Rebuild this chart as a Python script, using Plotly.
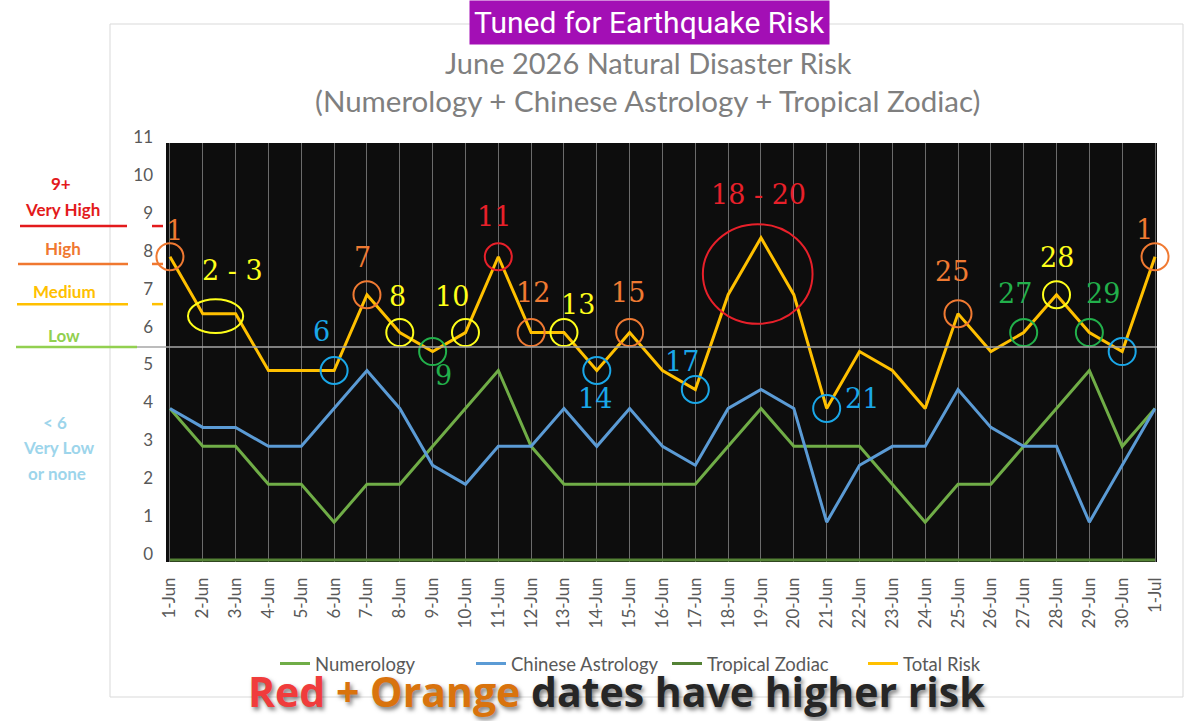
import plotly.graph_objects as go

dates = ["1-Jun", "2-Jun", "3-Jun", "4-Jun", "5-Jun", "6-Jun", "7-Jun", "8-Jun",
         "9-Jun", "10-Jun", "11-Jun", "12-Jun", "13-Jun", "14-Jun", "15-Jun",
         "16-Jun", "17-Jun", "18-Jun", "19-Jun", "20-Jun", "21-Jun", "22-Jun",
         "23-Jun", "24-Jun", "25-Jun", "26-Jun", "27-Jun", "28-Jun", "29-Jun",
         "30-Jun", "1-Jul"]

numerology = [4, 3, 3, 2, 2, 1, 2, 2, 3, 4, 5, 3, 2, 2, 2, 2, 2, 3, 4, 3,
              3, 3, 2, 1, 2, 2, 3, 4, 5, 3, 4]
chinese = [4, 3.5, 3.5, 3, 3, 4, 5, 4, 2.5, 2, 3, 3, 4, 3, 4, 3, 2.5, 4, 4.5, 4,
           1, 2.5, 3, 3, 4.5, 3.5, 3, 3, 1, 2.5, 4]
tropical = [0, 0, 0, 0, 0, 0, 0, 0, 0, 0, 0, 0, 0, 0, 0, 0, 0, 0, 0, 0,
            0, 0, 0, 0, 0, 0, 0, 0, 0, 0, 0]
total = [8, 6.5, 6.5, 5, 5, 5, 7, 6, 5.5, 6, 8, 6, 6, 5, 6, 5, 4.5, 7, 8.5, 7,
         4, 5.5, 5, 4, 6.5, 5.5, 6, 7, 6, 5.5, 8]

# highlighted days (index into dates) and the circle colour
circle_idx = [0, 5, 6, 7, 8, 9, 10, 11, 12, 13, 14, 16, 20, 24, 26, 27, 28, 29, 30]
circle_col = ["orange", "blue", "orange", "yellow", "green", "yellow", "red",
              "orange", "yellow", "blue", "orange", "blue", "blue", "orange",
              "green", "yellow", "green", "blue", "orange"]

COLS = {"orange": "#F07A32", "yellow": "#FFFF1A", "blue": "#1AA7E8",
        "green": "#22B04B", "red": "#E8202A"}

# plot area in pixels, used for placing the layout decorations
L, R, T, B = 166, 1157, 143, 562


def px(x):
    return (x - L) / (R - L)


def py(y):
    return (B - y) / (B - T)


fig = go.Figure()

for name, vals, col in [("Numerology", numerology, "#70AD47"),
                        ("Chinese Astrology", chinese, "#5B9BD5"),
                        ("Tropical Zodiac", tropical, "#548235"),
                        ("Total Risk", total, "#FFC000")]:
    fig.add_trace(go.Scatter(x=dates, y=vals, name=name, mode="lines",
                             line=dict(color=col, width=3)))

fig.add_trace(go.Scatter(
    x=[dates[i] for i in circle_idx],
    y=[total[i] for i in circle_idx],
    mode="markers", showlegend=False, hoverinfo="skip", cliponaxis=False,
    marker=dict(symbol="circle-open", size=27,
                line=dict(width=2, color=[COLS[c] for c in circle_col]),
                color=[COLS[c] for c in circle_col])))

shapes = [
    # chart frame
    dict(type="rect", xref="paper", yref="paper", x0=px(110), x1=px(1183),
         y0=py(697), y1=py(24), line=dict(color="#D9D9D9", width=1), layer="below"),
    # threshold line
    dict(type="line", xref="paper", yref="y", x0=px(137), x1=1, y0=5.62, y1=5.62,
         line=dict(color="#A6A6A6", width=1.5)),
    dict(type="line", xref="paper", yref="y", x0=px(16), x1=px(137), y0=5.62, y1=5.62,
         line=dict(color="#92D050", width=2.5)),
    # circled ranges
    dict(type="circle", xref="x", yref="y", x0=0.55, x1=2.23, y0=5.99, y1=6.88,
         line=dict(color=COLS["yellow"], width=2)),
    dict(type="circle", xref="x", yref="y", x0=16.23, x1=19.57, y0=6.23, y1=8.86,
         line=dict(color=COLS["red"], width=2)),
]
for yv, col, xl, xr in [(8.81, "#E31A1C", 20, 127), (7.81, "#F07830", 18, 128),
                        (6.75, "#FFC000", 17, 128)]:
    shapes.append(dict(type="line", xref="paper", yref="y", x0=px(xl), x1=px(xr),
                       y0=yv, y1=yv, line=dict(color=col, width=2.5)))
    shapes.append(dict(type="line", xref="paper", yref="y", x0=px(152), x1=px(163),
                       y0=yv, y1=yv, line=dict(color=col, width=2.5)))

ann = []
ann.append(dict(text="Tuned for Earthquake Risk", x=px(649), y=py(22),
                font=dict(family="Roboto", size=30, color="white"),
                bgcolor="#A30FB5", borderpad=4))
ann.append(dict(text="June 2026 Natural Disaster Risk", x=px(648), y=py(62),
                font=dict(family="Lato", size=29, color="#7F7F7F")))
ann.append(dict(text="(Numerology + Chinese Astrology + Tropical Zodiac)", x=px(648), y=py(100),
                font=dict(family="Lato", size=29.5, color="#7F7F7F")))

for txt, col, x, y in [("9+", "#E31A1C", 61, 183), ("Very High", "#E31A1C", 62, 209),
                       ("High", "#F07830", 63, 248), ("Medium", "#FFC000", 64, 291),
                       ("Low", "#92D050", 64, 335), ("< 6", "#9DD5EB", 55, 422),
                       ("Very Low", "#9DD5EB", 59, 447), ("or none", "#9DD5EB", 57, 473)]:
    ann.append(dict(text="<b>" + txt + "</b>", x=px(x), y=py(y),
                    font=dict(family="Lato", size=17, color=col)))

for d in ann:
    d.update(xref="paper", yref="paper", showarrow=False, xanchor="center", yanchor="middle")

point_labels = [("1", "orange", 0.15, 8.68), ("2 - 3", "yellow", 1.92, 7.65),
                ("6", "blue", 4.63, 6.04), ("7", "orange", 5.85, 7.97),
                ("8", "yellow", 6.94, 6.94), ("9", "green", 8.32, 4.88),
                ("10", "yellow", 8.59, 6.94), ("11", "red", 9.87, 9.07),
                ("12", "orange", 11.06, 7.07), ("13", "yellow", 12.43, 6.73),
                ("14", "blue", 12.95, 4.25), ("15", "orange", 13.95, 7.07),
                ("17", "blue", 15.6, 5.25), ("18 - 20", "red", 17.91, 9.63),
                ("21", "blue", 21.08, 4.27), ("25", "orange", 23.82, 7.62),
                ("27", "green", 25.74, 7.04), ("28", "yellow", 27.02, 7.97),
                ("29", "green", 28.42, 7.04), ("1", "orange", 29.67, 8.71)]
for txt, c, x, y in point_labels:
    ann.append(dict(text=txt, x=x, y=y, xref="x", yref="y", showarrow=False,
                    font=dict(family="DejaVu Serif", size=27, color=COLS[c])))

ann.append(dict(
    text='<b><span style="color:#F03C3C">Red</span> '
         '<span style="color:#D9730D">+ Orange</span> dates have higher risk</b>',
    x=px(616), y=py(721), xref="paper", yref="paper", showarrow=False,
    xanchor="center", yanchor="bottom",
    font=dict(family="Open Sans", size=41, color="#262626",
              shadow="2px 3px 4px rgba(0,0,0,0.5)")))

fig.update_layout(
    width=1200, height=721,
    margin=dict(l=L, r=1200 - R, t=T, b=721 - B, autoexpand=False),
    paper_bgcolor="white", plot_bgcolor="#0D0D0D",
    shapes=shapes, annotations=ann,
    showlegend=True,
    legend=dict(orientation="h", x=px(275), xanchor="left", y=py(664), yanchor="middle",
                entrywidth=151, entrywidthmode="pixels",
                font=dict(family="Lato", size=18.5, color="#595959"), bgcolor="rgba(0,0,0,0)"),
    xaxis=dict(type="category", range=[-0.12, 30.06], showgrid=True, gridcolor="#6B6B6B",
               gridwidth=1, tickangle=-90, zeroline=False, showline=False, ticks="",
               ticklabelstandoff=11, automargin=False,
               tickfont=dict(family="Lato", size=17, color="#595959")),
    yaxis=dict(range=[-0.05, 11], dtick=1, tick0=0, showgrid=False, zeroline=False,
               showline=False, ticks="", ticklabelshift=-6, ticklabelstandoff=12,
               automargin=False,
               tickfont=dict(family="Lato", size=17, color="#595959")),
)

# the page body has a default 8px margin; drop it so the figure sits at (0, 0)
fig.write_html("out.html", config={"displayModeBar": False},
               post_script="document.body.style.margin='0';")
